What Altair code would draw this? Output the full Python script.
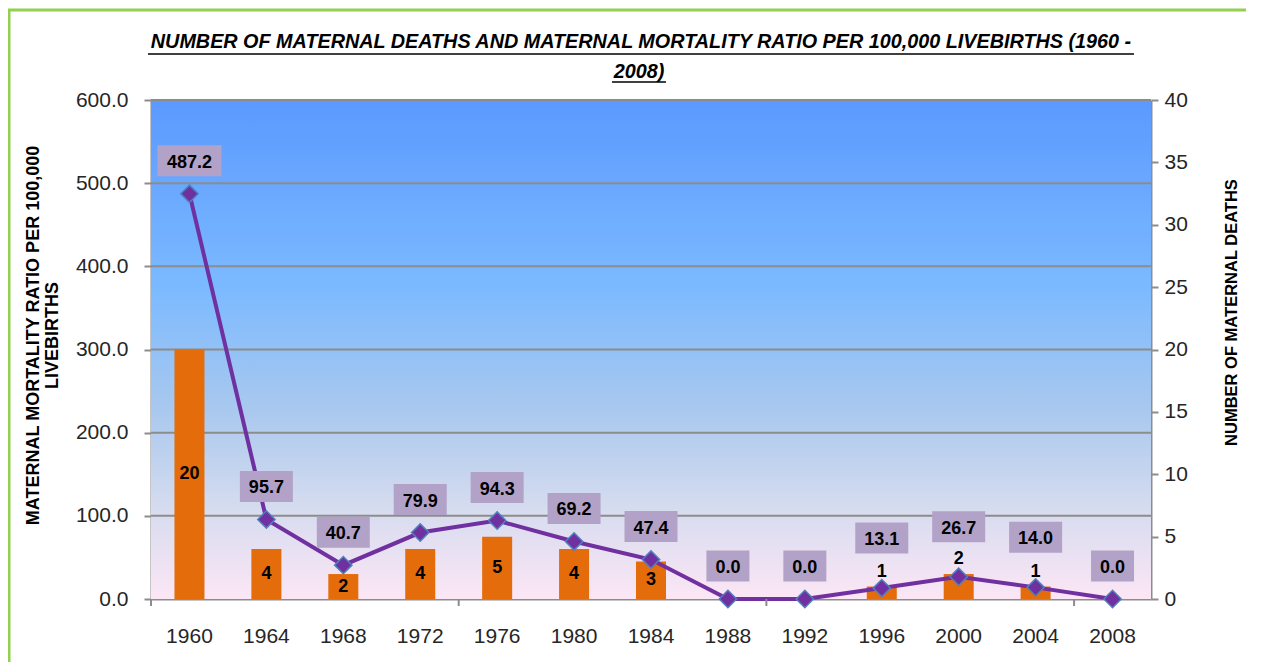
import altair as alt
import pandas as pd

# ---- data ----
years = [1960, 1964, 1968, 1972, 1976, 1980, 1984, 1988, 1992, 1996, 2000, 2004, 2008]
deaths = [20, 4, 2, 4, 5, 4, 3, 0, 0, 1, 2, 1, 0]
mmr = [487.2, 95.7, 40.7, 79.9, 94.3, 69.2, 47.4, 0.0, 0.0, 13.1, 26.7, 14.0, 0.0]
mmr_ticks = [0, 100, 200, 300, 400, 500, 600]
death_ticks = [0, 5, 10, 15, 20, 25, 30, 35, 40]
tick_years = ["1960", "1976", "1992", "2008"]
label_above_years = ["1996", "2000", "2004"]
title_lines = [
    "NUMBER OF MATERNAL DEATHS AND MATERNAL MORTALITY RATIO PER 100,000 LIVEBIRTHS (1960  -",
    "2008)",
]
left_title = ["MATERNAL MORTALITY RATIO PER 100,000", "LIVEBIRTHS"]
right_title = "NUMBER OF MATERNAL DEATHS"

W, H = 1000, 499
RATIO = 600 / 40  # left-axis units per death (right axis 0-40 vs left 0-600)

df = pd.DataFrame({"year": [str(y) for y in years], "deaths": deaths, "mmr": mmr})
df["mmr_label"] = [f"{v:.1f}" for v in mmr]
df["nchar"] = df["mmr_label"].str.len()

FONT = "Liberation Sans"
GRAY = "#8C8C8C"

xenc = alt.X("year:N", title=None,
             scale=alt.Scale(paddingInner=0, paddingOuter=0),
             axis=alt.Axis(labelAngle=0, ticks=False, domainColor=GRAY, domainWidth=2,
                           labelFont=FONT, labelFontSize=21, labelColor="#262626",
                           labelPadding=37, labelBaseline="middle", grid=False))

yscale = alt.Scale(domain=[0, 600], nice=False, zero=True)
left_axis = alt.Axis(values=mmr_ticks, format=".1f", grid=False, domainColor=GRAY, domainWidth=2,
                     tickColor=GRAY, tickWidth=2, tickSize=7, labelPadding=16,
                     labelFont=FONT, labelFontSize=21, labelColor="#262626",
                     title=left_title, titleFont=FONT, titleFontSize=18, titleFontWeight="bold",
                     titleColor="#000000", titleAngle=-90, titleX=-118, titleY=235,
                     titleAlign="center", titleBaseline="middle", titleLineHeight=19)


def Y(field):
    return alt.Y(field, scale=yscale, axis=left_axis, title=left_title)


base = alt.Chart(df)
one = alt.Chart(alt.Data(values=[{"k": 1}]))
above = alt.FieldOneOfPredicate(field="year", oneOf=label_above_years)
above_expr = "indexof(" + str(label_above_years).replace("'", '"') + ", datum.year) >= 0"

# gradient plot background
bg = one.mark_rect(
    color=alt.Gradient(
        gradient="linear", x1=0, x2=0, y1=0, y2=1,
        stops=[
            alt.GradientStop(color="#5B99FF", offset=0),
            alt.GradientStop(color="#7CBAFF", offset=0.38),
            alt.GradientStop(color="#A9C8EE", offset=0.62),
            alt.GradientStop(color="#D6DCEF", offset=0.82),
            alt.GradientStop(color="#FCE6F5", offset=1),
        ],
    )
).encode(x=alt.value(0), x2=alt.value(W), y=alt.value(0), y2=alt.value(H))

grid = alt.Chart(pd.DataFrame({"v": mmr_ticks[1:]})).mark_rule(color=GRAY, strokeWidth=2).encode(
    y=Y("v:Q"))

bars = base.mark_bar(width=30, color="#E46C0A").transform_calculate(
    scaled=f"datum.deaths * {RATIO}").encode(x=xenc, y=Y("scaled:Q"))

bar_in = base.transform_filter("datum.deaths > 0").transform_filter(
    ~above
).transform_calculate(mid=f"datum.deaths * {RATIO} / 2").mark_text(
    font=FONT, fontSize=18, fontWeight="bold", color="#000000", baseline="middle"
).encode(x=xenc, y=Y("mid:Q"), text="deaths:Q")

bar_up = base.transform_filter(above).transform_calculate(
    top=f"datum.deaths * {RATIO}").mark_text(
    font=FONT, fontSize=18, fontWeight="bold", color="#000000", baseline="middle", dy=-15
).encode(x=xenc, y=Y("top:Q"), text="deaths:Q")

line = base.mark_line(color="#7030A0", strokeWidth=4).encode(x=xenc, y=Y("mmr:Q"))

pts = base.mark_point(shape="diamond", filled=True, size=300, fill="#7030A0",
                      stroke="#4F81BD", strokeWidth=1.5, opacity=1).encode(x=xenc, y=Y("mmr:Q"))

CY_N, CY_R = -33, -50
BOX_W = {3: 43, 4: 53, 5: 64}


def box_path(w, cy):
    return f"M{-w/2},{cy - 15.5}H{w/2}V{cy + 15.5}H{-w/2}Z"


key_domain, key_range = [], []
for tag, cy in (("n", CY_N), ("r", CY_R)):
    for n, w in BOX_W.items():
        key_domain.append(f"{n}{tag}")
        key_range.append(box_path(w, cy))

boxes = base.transform_calculate(
    boxkey=f"datum.nchar + ({above_expr} ? 'r' : 'n')"
).mark_point(filled=True, size=4, fill="#B3A2C7", strokeWidth=0, opacity=1).encode(
    x=xenc, y=Y("mmr:Q"),
    shape=alt.Shape("boxkey:N", scale=alt.Scale(domain=key_domain, range=key_range), legend=None))

txt_n = base.transform_filter(~above).mark_text(
    font=FONT, fontSize=18, fontWeight="bold", color="#000000", baseline="middle", dy=CY_N + 2
).encode(x=xenc, y=Y("mmr:Q"), text="mmr_label:N")
txt_r = base.transform_filter(above).mark_text(
    font=FONT, fontSize=18, fontWeight="bold", color="#000000", baseline="middle", dy=CY_R + 2
).encode(x=xenc, y=Y("mmr:Q"), text="mmr_label:N")

xticks = alt.Chart(pd.DataFrame({"year": tick_years})).mark_rule(color=GRAY, strokeWidth=2).encode(
    x=alt.X("year:N", bandPosition=0, title=None), y=alt.value(H), y2=alt.value(H + 7))

TSIZE = 19.8
title1 = one.mark_text(font=FONT, fontSize=TSIZE, fontWeight="bold", fontStyle="italic",
                       color="#000000", baseline="middle").encode(
    x=alt.value(490), y=alt.value(-58), text=alt.value(title_lines[0]))
title2 = one.mark_text(font=FONT, fontSize=TSIZE, fontWeight="bold", fontStyle="italic",
                       color="#000000", baseline="middle").encode(
    x=alt.value(488), y=alt.value(-28.5), text=alt.value(title_lines[1]))
ul1 = one.mark_rule(color="#000000", strokeWidth=1.5).encode(
    x=alt.value(-3), x2=alt.value(983), y=alt.value(-46))
ul2 = one.mark_rule(color="#000000", strokeWidth=1.5).encode(
    x=alt.value(461), x2=alt.value(515), y=alt.value(-18))

border_v = one.mark_rule(color="#92D050", strokeWidth=3).encode(
    x=alt.value(-142), y=alt.value(-91), y2=alt.value(H + 63))
border_h = one.mark_rule(color="#92D050", strokeWidth=3).encode(
    x=alt.value(-143), x2=alt.value(W + 100), y=alt.value(-90))

main = alt.layer(bg, grid, bars, bar_in, bar_up, line, pts, boxes, txt_n, txt_r, xticks,
                 title1, title2, ul1, ul2, border_v, border_h)

right = base.mark_point(opacity=0).encode(
    x=xenc,
    y=alt.Y("deaths:Q", scale=alt.Scale(domain=[0, 40], nice=False),
            axis=alt.Axis(orient="right", values=death_ticks, grid=False, domainColor=GRAY,
                          domainWidth=2, tickColor=GRAY, tickWidth=2, tickSize=7, labelPadding=6,
                          labelFont=FONT, labelFontSize=21, labelColor="#262626",
                          title=right_title, titleFont=FONT, titleFontSize=16.5,
                          titleFontWeight="bold", titleColor="#000000", titleAngle=-90,
                          titleX=80, titleY=212, titleAlign="center", titleBaseline="middle"),
            title=right_title))

chart = alt.layer(main, right).resolve_scale(y="independent").properties(
    width=W, height=H,
    autosize=alt.AutoSizeParams(type="none"),
    padding={"left": 143, "top": 92, "right": 95, "bottom": 63},
    background="#FFFFFF",
).configure_view(stroke=None)

chart.save("out.html", embed_options={"renderer": "svg", "actions": False})
